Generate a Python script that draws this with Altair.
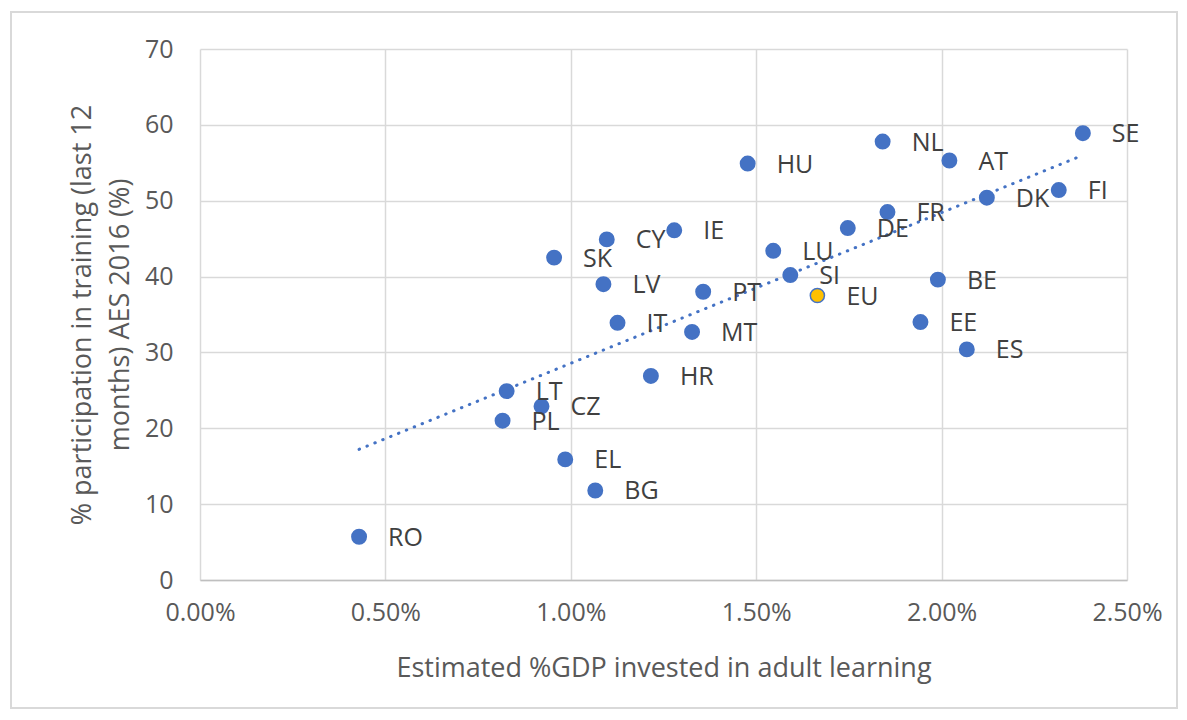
import altair as alt
import pandas as pd

countries = ["RO", "PL", "LT", "CZ", "SK", "EL", "BG", "LV", "CY", "IT", "HR", "IE", "MT", "PT",
             "HU", "LU", "SI", "EU", "DE", "NL", "FR", "EE", "BE", "AT", "ES", "DK", "FI", "SE"]
gdp_share = [0.00429, 0.00816, 0.00827, 0.00921, 0.00955, 0.00985, 0.01066, 0.01088, 0.01097,
             0.01126, 0.01216, 0.01279, 0.01327, 0.01357, 0.01477, 0.01546, 0.01592, 0.01665,
             0.01747, 0.01841, 0.01854, 0.01943, 0.01990, 0.02021, 0.02068, 0.02122, 0.02316, 0.02381]
participation = [5.7, 21.0, 24.9, 22.9, 42.5, 15.9, 11.8, 39.0, 44.9, 33.9, 26.9, 46.1, 32.7, 38.0,
                 54.9, 43.4, 40.2, 37.5, 46.4, 57.8, 48.5, 34.0, 39.6, 55.3, 30.4, 50.4, 51.4, 58.9]
x_ticks = [0, 0.005, 0.01, 0.015, 0.02, 0.025]
y_ticks = [0, 10, 20, 30, 40, 50, 60, 70]

df = pd.DataFrame({"country": countries, "gdp": gdp_share, "part": participation})

FONT = "Open Sans"
BLUE = "#4472C4"

x_enc = alt.X("gdp:Q", scale=alt.Scale(domain=[0, 0.025], nice=False),
              axis=alt.Axis(values=x_ticks, format=".2%", title="Estimated %GDP invested in adult learning",
                            titlePadding=30, labelFlush=False))
y_enc = alt.Y("part:Q", scale=alt.Scale(domain=[0, 70], nice=False),
              axis=alt.Axis(values=y_ticks, title=["% participation in training (last 12", "months) AES 2016 (%)"],
                            titleLineHeight=38, titlePadding=10, labelPadding=27, domain=False,
                            labelFlush=False))

base = alt.Chart(df)

frame = alt.Chart(pd.DataFrame({"k": [0]})).mark_rect(
    fill="white", fillOpacity=0, stroke="#d9d9d9", strokeWidth=2
).encode(x=alt.value(-189), x2=alt.value(977), y=alt.value(-37), y2=alt.value(659))

points = base.transform_filter("datum.country != 'EU'").mark_circle(
    size=254, color=BLUE, opacity=1
).encode(x=x_enc, y=y_enc)

eu_point = base.transform_filter("datum.country == 'EU'").mark_circle(
    size=200, fill="#FFC000", stroke=BLUE, strokeWidth=1.5, opacity=1, fillOpacity=1
).encode(x="gdp:Q", y="part:Q")

trend = base.transform_filter("datum.country != 'EU'").transform_regression(
    "gdp", "part"
).mark_line(color=BLUE, strokeWidth=3, strokeDash=[0.5, 8], strokeCap="round").encode(
    x="gdp:Q", y="part:Q")

labels = base.mark_text(
    align="left", baseline="middle", dx=29, dy=1, fontSize=25, font=FONT, color="#404040"
).encode(x="gdp:Q", y="part:Q", text="country:N")

chart = alt.layer(frame, points, eu_point, trend, labels).properties(
    width=927, height=531,
    autosize=alt.AutoSizeParams(type="none"),
    padding={"left": 192, "top": 41, "right": 52, "bottom": 132},
).configure_view(stroke=None).configure_axis(
    grid=True, gridColor="#d9d9d9", gridWidth=1.5, ticks=False,
    labelFont=FONT, labelFontSize=25, labelColor="#595959",
    titleFont=FONT, titleFontSize=27, titleColor="#595959", titleFontWeight="normal",
    domainColor="#bfbfbf", domainWidth=1.5,
).configure_axisX(labelPadding=20)

chart.save("out.html", embed_options={"renderer": "svg", "actions": False})
